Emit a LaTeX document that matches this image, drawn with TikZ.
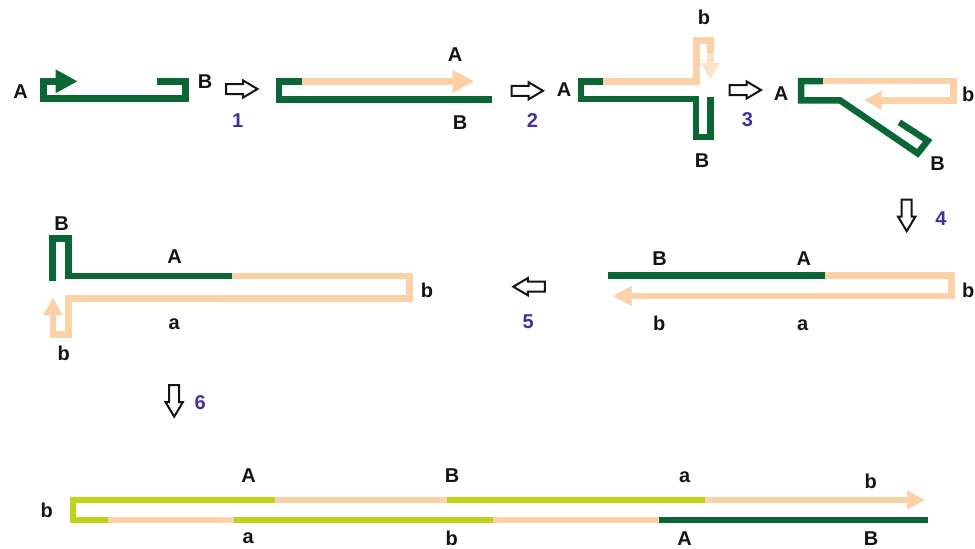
\documentclass[tikz,border=0pt]{standalone}
\usepackage{fontspec}
\setmainfont{Liberation Sans}
\usetikzlibrary{arrows.meta}
\definecolor{dnagreen}{RGB}{10,102,52}
\definecolor{peach}{RGB}{253,209,168}
\definecolor{peachpale}{RGB}{254,226,200}
\definecolor{lime}{RGB}{190,213,22}
\definecolor{stepnum}{RGB}{64,48,160}
\definecolor{ink}{RGB}{20,20,20}
\tikzset{
  strand/.style={line width=6.5pt, line join=miter, line cap=butt},
  gstrand/.style={strand, draw=dnagreen},
  pstrand/.style={strand, draw=peach},
  lstrand/.style={strand, draw=lime},
  headtip/.style={-{Triangle[length=#1pt, width=#1pt]}},
  lbl/.style={inner sep=0pt, font=\bfseries\fontsize{20}{20}\selectfont, text=ink},
  num/.style={lbl, text=stepnum},
  openarr/.style={draw=ink, line width=2pt, fill=white, line join=miter},
  openarrow/.pic={\path[openarr] (-16,-5) -- (1,-5) -- (1,-8.6) -- (15.5,0)
      -- (1,8.6) -- (1,5) -- (-16,5) -- cycle;}
}
\begin{document}
\begin{tikzpicture}[x=1pt,y=-1pt]
\useasboundingbox (0,0) rectangle (975,549);

% ---- stage 0: template with primer ----
\draw[gstrand, headtip=22] (157.3,81.3) -- (185.7,81.3) -- (185.7,98.7)
  -- (43.7,98.7) -- (43.7,81.3) -- (77.7,81.3);
\node[lbl] (s0A) at (20.5,91.5) {A};
\node[lbl] (s0B) at (205,82) {B};
\pic at (242,89) {openarrow};
\node[num] (n1) at (237.7,121) {1};

% ---- stage 1: extension ----
\draw[gstrand] (302.3,81.3) -- (279.2,81.3) -- (279.2,99.3) -- (492.3,99.3);
\draw[pstrand, headtip=22] (302.3,81.3) -- (474.3,81.3);
\node[lbl] (s1A) at (455,55) {A};
\node[lbl] (s1B) at (460,122.7) {B};
\pic at (527.5,90.8) {openarrow};
\node[num] (n2) at (532.5,120.7) {2};

% ---- stage 2: hairpin formation ----
\draw[gstrand] (603,81.3) -- (581,81.3) -- (581,99.2) -- (696.2,99.2)
  -- (696.2,137) -- (710.3,137) -- (710.3,97.3);
\draw[pstrand] (603,81.3) -- (696.3,81.3) -- (696.3,40.7) -- (710.3,40.7) -- (710.3,53.5);
\draw[pstrand, draw=peachpale, headtip=17] (710.3,53) -- (710.3,80);
\node[lbl] (s2A) at (564,90) {A};
\node[lbl] (s2b) at (704,17.5) {b};
\node[lbl] (s2B) at (702,160.8) {B};
\pic at (745.5,90) {openarrow};
\node[num] (n3) at (747.5,120) {3};

% ---- stage 3: strand displacement ----
\draw[gstrand] (823.3,81) -- (801,81) -- (801,100.3) -- (840,100.3)
  -- (917.7,153.3) -- (927.7,140.7) -- (899.3,122.3);
\draw[pstrand, headtip=17.5] (823.3,81) -- (953.3,81) -- (953.3,100.3) -- (864,100.3);
\node[lbl] (s3A) at (781,93.3) {A};
\node[lbl] (s3b) at (968.3,94) {b};
\node[lbl] (s3B) at (937.5,163.8) {B};
\pic[rotate=-90] at (906.7,215.7) {openarrow};
\node[num] (n4) at (941,218.3) {4};

% ---- stage 4 ----
\draw[gstrand] (608.3,275.7) -- (825,275.7);
\draw[pstrand, headtip=19] (825,275.7) -- (951.7,275.7) -- (951.7,296) -- (612.7,296);
\node[lbl] (s4B) at (659.7,258.8) {B};
\node[lbl] (s4A) at (803.8,258.8) {A};
\node[lbl] (s4bR) at (968.3,290.8) {b};
\node[lbl] (s4b) at (659.2,323) {b};
\node[lbl] (s4a) at (802.8,325) {a};
\pic[rotate=180] at (528.8,286.7) {openarrow};
\node[num] (n5) at (528.3,321.7) {5};

% ---- stage 5 ----
\draw[gstrand] (52.7,280.7) -- (52.7,238.7) -- (68.3,238.7) -- (68.3,275.8) -- (232.3,275.8);
\draw[pstrand, headtip=18] (232.3,275.8) -- (409.3,275.8) -- (409.3,298.7)
  -- (68.6,298.7) -- (68.6,334.5) -- (53,334.5) -- (53,297.3);
\node[lbl] (s5B) at (61.7,223.3) {B};
\node[lbl] (s5A) at (174.7,256.7) {A};
\node[lbl] (s5bR) at (427,290) {b};
\node[lbl] (s5a) at (174.2,324.7) {a};
\node[lbl] (s5b) at (63.7,353) {b};
\pic[rotate=-90] at (174.2,401.2) {openarrow};
\node[num] (n6) at (200.2,402.5) {6};

% ---- stage 6: final product ----
\draw[lstrand] (275,500) -- (73,500) -- (73,520) -- (107.7,520);
\draw[pstrand] (275,500) -- (446.7,500);
\draw[lstrand] (446.7,500) -- (705,500);
\draw[pstrand, headtip=18] (705,500) -- (925,500);
\draw[pstrand] (107.7,520) -- (234.3,520);
\draw[lstrand] (234.3,520) -- (493,520);
\draw[pstrand] (493,520) -- (659.3,520);
\draw[gstrand] (659.3,520) -- (928.3,520);
\node[lbl] (s6bL) at (46.7,510.8) {b};
\node[lbl] (s6A) at (248.7,475.5) {A};
\node[lbl] (s6B) at (452.2,475.5) {B};
\node[lbl] (s6a) at (684.8,477.5) {a};
\node[lbl] (s6b) at (870.8,481.7) {b};
\node[lbl] (s6a2) at (248.3,538.5) {a};
\node[lbl] (s6b2) at (451.8,538) {b};
\node[lbl] (s6A2) at (684.7,538.5) {A};
\node[lbl] (s6B2) at (871.2,538.5) {B};
\end{tikzpicture}
\end{document}
